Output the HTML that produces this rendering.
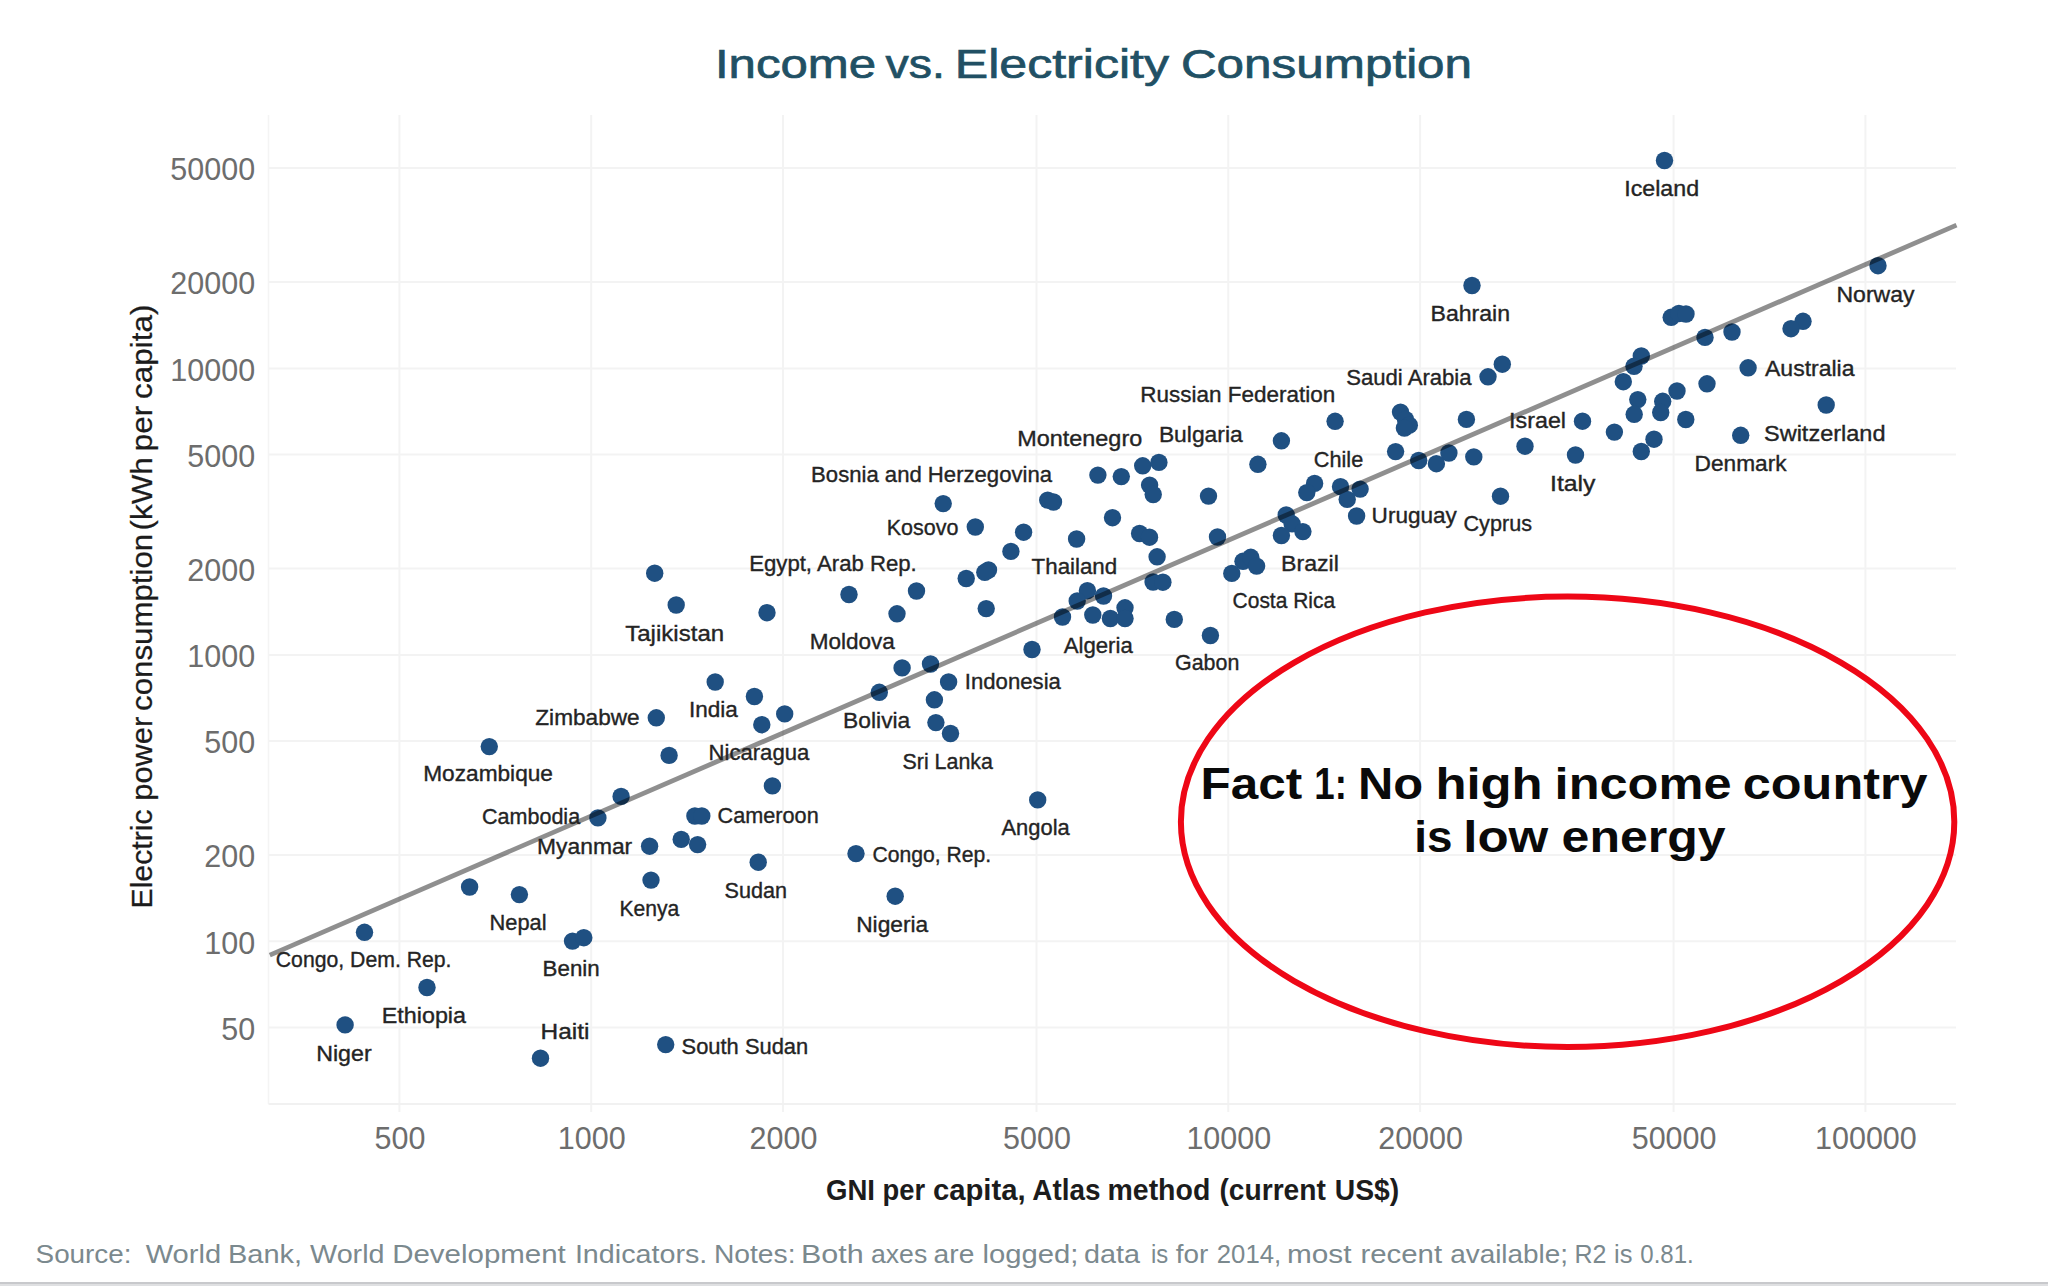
<!DOCTYPE html><html><head><meta charset="utf-8"><title>Income vs. Electricity Consumption</title>
<style>html,body{margin:0;padding:0;background:#fff;}body{width:2048px;height:1286px;overflow:hidden;position:relative;font-family:"Liberation Sans",sans-serif;}svg{position:absolute;left:0;top:0;display:block}</style></head><body>
<svg width="2048" height="1286" viewBox="0 0 2048 1286" font-family="Liberation Sans, sans-serif">
<rect x="0" y="0" width="2048" height="1286" fill="#ffffff"/>
<g stroke="#f3f3f3" stroke-width="2"><line x1="399.4" y1="115" x2="399.4" y2="1112"/><line x1="591.2" y1="115" x2="591.2" y2="1112"/><line x1="783.0" y1="115" x2="783.0" y2="1112"/><line x1="1036.5" y1="115" x2="1036.5" y2="1112"/><line x1="1228.3" y1="115" x2="1228.3" y2="1112"/><line x1="1420.1" y1="115" x2="1420.1" y2="1112"/><line x1="1673.6" y1="115" x2="1673.6" y2="1112"/><line x1="1865.4" y1="115" x2="1865.4" y2="1112"/><line x1="268.5" y1="1027.6" x2="1956" y2="1027.6"/><line x1="268.5" y1="941.3" x2="1956" y2="941.3"/><line x1="268.5" y1="855.1" x2="1956" y2="855.1"/><line x1="268.5" y1="741.1" x2="1956" y2="741.1"/><line x1="268.5" y1="654.9" x2="1956" y2="654.9"/><line x1="268.5" y1="568.6" x2="1956" y2="568.6"/><line x1="268.5" y1="454.6" x2="1956" y2="454.6"/><line x1="268.5" y1="368.4" x2="1956" y2="368.4"/><line x1="268.5" y1="282.1" x2="1956" y2="282.1"/><line x1="268.5" y1="168.1" x2="1956" y2="168.1"/></g>
<line x1="268.5" y1="115" x2="268.5" y2="1104" stroke="#f4f4f4" stroke-width="1.5"/>
<line x1="268.5" y1="1104" x2="1956" y2="1104" stroke="#f1f1f1" stroke-width="2"/>
<g font-size="30.5" fill="#6d6d6d"><text x="255.2" y="1039.8" text-anchor="end">50</text><text x="255.2" y="953.5" text-anchor="end">100</text><text x="255.2" y="867.3" text-anchor="end">200</text><text x="255.2" y="753.3" text-anchor="end">500</text><text x="255.2" y="667.1" text-anchor="end">1000</text><text x="255.2" y="580.8" text-anchor="end">2000</text><text x="255.2" y="466.8" text-anchor="end">5000</text><text x="255.2" y="380.6" text-anchor="end">10000</text><text x="255.2" y="294.3" text-anchor="end">20000</text><text x="255.2" y="180.3" text-anchor="end">50000</text><text x="399.9" y="1148.5" text-anchor="middle">500</text><text x="591.7" y="1148.5" text-anchor="middle">1000</text><text x="783.5" y="1148.5" text-anchor="middle">2000</text><text x="1037.0" y="1148.5" text-anchor="middle">5000</text><text x="1228.8" y="1148.5" text-anchor="middle">10000</text><text x="1420.6" y="1148.5" text-anchor="middle">20000</text><text x="1674.1" y="1148.5" text-anchor="middle">50000</text><text x="1865.9" y="1148.5" text-anchor="middle">100000</text></g>
<g fill="#1f5082"><circle cx="1664.5" cy="160.5" r="8.7"/><circle cx="1878" cy="265.7" r="8.7"/><circle cx="1472" cy="285.5" r="8.7"/><circle cx="1671.2" cy="317.3" r="8.7"/><circle cx="1678.9" cy="313.5" r="8.7"/><circle cx="1686" cy="314" r="8.7"/><circle cx="1732" cy="332" r="8.7"/><circle cx="1705" cy="337.4" r="8.7"/><circle cx="1641.3" cy="356" r="8.7"/><circle cx="1634" cy="366.3" r="8.7"/><circle cx="1623.3" cy="381.7" r="8.7"/><circle cx="1748.1" cy="367.8" r="8.7"/><circle cx="1707" cy="383.8" r="8.7"/><circle cx="1677" cy="391" r="8.7"/><circle cx="1637.8" cy="399.6" r="8.7"/><circle cx="1662.7" cy="401.3" r="8.7"/><circle cx="1660.7" cy="412.5" r="8.7"/><circle cx="1634.2" cy="414.3" r="8.7"/><circle cx="1685.8" cy="419.5" r="8.7"/><circle cx="1614.4" cy="432.1" r="8.7"/><circle cx="1654" cy="439.2" r="8.7"/><circle cx="1641.3" cy="451.5" r="8.7"/><circle cx="1740.7" cy="435.3" r="8.7"/><circle cx="1826.2" cy="405" r="8.7"/><circle cx="1803" cy="321.3" r="8.7"/><circle cx="1791" cy="328.7" r="8.7"/><circle cx="1502.3" cy="364.2" r="8.7"/><circle cx="1488" cy="376.8" r="8.7"/><circle cx="1582.5" cy="421.2" r="8.7"/><circle cx="1466.4" cy="419.4" r="8.7"/><circle cx="1525" cy="446.2" r="8.7"/><circle cx="1575.5" cy="455" r="8.7"/><circle cx="1473.8" cy="456.9" r="8.7"/><circle cx="1448.9" cy="453" r="8.7"/><circle cx="1436.4" cy="463.7" r="8.7"/><circle cx="1418.7" cy="460.5" r="8.7"/><circle cx="1395.6" cy="451.6" r="8.7"/><circle cx="1500.5" cy="496.2" r="8.7"/><circle cx="1400.5" cy="412.1" r="8.7"/><circle cx="1405.5" cy="419.5" r="8.7"/><circle cx="1409.3" cy="425.2" r="8.7"/><circle cx="1404.4" cy="428.1" r="8.7"/><circle cx="1335.1" cy="421.3" r="8.7"/><circle cx="1281.4" cy="440.8" r="8.7"/><circle cx="1257.9" cy="464.3" r="8.7"/><circle cx="1142.7" cy="465.8" r="8.7"/><circle cx="1158.9" cy="462.4" r="8.7"/><circle cx="1149.6" cy="485.1" r="8.7"/><circle cx="1153.2" cy="494.5" r="8.7"/><circle cx="1208.5" cy="496.1" r="8.7"/><circle cx="1314.6" cy="483.4" r="8.7"/><circle cx="1306.8" cy="492.6" r="8.7"/><circle cx="1340.5" cy="486.7" r="8.7"/><circle cx="1360.1" cy="489.1" r="8.7"/><circle cx="1347.2" cy="499.4" r="8.7"/><circle cx="1356.6" cy="516" r="8.7"/><circle cx="1286.2" cy="515" r="8.7"/><circle cx="1292.1" cy="523.8" r="8.7"/><circle cx="1302.9" cy="531.6" r="8.7"/><circle cx="1281.4" cy="535.5" r="8.7"/><circle cx="1217.5" cy="537" r="8.7"/><circle cx="1139.6" cy="533.5" r="8.7"/><circle cx="1149.5" cy="537.2" r="8.7"/><circle cx="1157.1" cy="556.8" r="8.7"/><circle cx="1097.9" cy="475.1" r="8.7"/><circle cx="1121.3" cy="476.6" r="8.7"/><circle cx="1047.7" cy="500.1" r="8.7"/><circle cx="1053.5" cy="502" r="8.7"/><circle cx="943.2" cy="503.6" r="8.7"/><circle cx="975.3" cy="527" r="8.7"/><circle cx="1023.6" cy="532.2" r="8.7"/><circle cx="1112.5" cy="517.7" r="8.7"/><circle cx="1076.6" cy="539" r="8.7"/><circle cx="1010.9" cy="551.4" r="8.7"/><circle cx="988.5" cy="570" r="8.7"/><circle cx="984.8" cy="572.3" r="8.7"/><circle cx="966.2" cy="578.5" r="8.7"/><circle cx="1153.1" cy="582" r="8.7"/><circle cx="1162.9" cy="582.2" r="8.7"/><circle cx="849" cy="594.5" r="8.7"/><circle cx="916.5" cy="591" r="8.7"/><circle cx="897" cy="613.8" r="8.7"/><circle cx="986.2" cy="608.6" r="8.7"/><circle cx="1087.4" cy="590.7" r="8.7"/><circle cx="1103.5" cy="596" r="8.7"/><circle cx="1077.2" cy="601" r="8.7"/><circle cx="1062.5" cy="617" r="8.7"/><circle cx="1092.8" cy="615" r="8.7"/><circle cx="1125" cy="607.8" r="8.7"/><circle cx="1110.4" cy="618.5" r="8.7"/><circle cx="1125" cy="618.5" r="8.7"/><circle cx="1174.3" cy="619.4" r="8.7"/><circle cx="1243" cy="561.3" r="8.7"/><circle cx="1250.8" cy="557.3" r="8.7"/><circle cx="1256.6" cy="566.1" r="8.7"/><circle cx="1231.8" cy="573.4" r="8.7"/><circle cx="1210.4" cy="635.5" r="8.7"/><circle cx="1032" cy="649.5" r="8.7"/><circle cx="654.7" cy="573.2" r="8.7"/><circle cx="676.2" cy="605" r="8.7"/><circle cx="767" cy="612.7" r="8.7"/><circle cx="902.1" cy="667.9" r="8.7"/><circle cx="930.5" cy="664" r="8.7"/><circle cx="948.6" cy="682" r="8.7"/><circle cx="879.3" cy="692.3" r="8.7"/><circle cx="934.4" cy="699.8" r="8.7"/><circle cx="935.9" cy="722.6" r="8.7"/><circle cx="950.5" cy="733.5" r="8.7"/><circle cx="715.2" cy="682" r="8.7"/><circle cx="754.4" cy="696.5" r="8.7"/><circle cx="784.7" cy="713.9" r="8.7"/><circle cx="761.8" cy="724.7" r="8.7"/><circle cx="656.3" cy="717.8" r="8.7"/><circle cx="489.3" cy="746.6" r="8.7"/><circle cx="669.1" cy="755.4" r="8.7"/><circle cx="772.4" cy="785.9" r="8.7"/><circle cx="621.1" cy="796.4" r="8.7"/><circle cx="597.9" cy="817.9" r="8.7"/><circle cx="694.9" cy="816" r="8.7"/><circle cx="701.8" cy="816" r="8.7"/><circle cx="681.2" cy="839.4" r="8.7"/><circle cx="697.6" cy="844.6" r="8.7"/><circle cx="649.6" cy="846.2" r="8.7"/><circle cx="758.2" cy="862.2" r="8.7"/><circle cx="856" cy="853.6" r="8.7"/><circle cx="1037.7" cy="799.9" r="8.7"/><circle cx="895.2" cy="896.2" r="8.7"/><circle cx="651" cy="880.1" r="8.7"/><circle cx="469.6" cy="887" r="8.7"/><circle cx="519.4" cy="894.6" r="8.7"/><circle cx="364.5" cy="932.3" r="8.7"/><circle cx="572.5" cy="941.1" r="8.7"/><circle cx="583.8" cy="937.7" r="8.7"/><circle cx="427" cy="987.5" r="8.7"/><circle cx="345.1" cy="1024.9" r="8.7"/><circle cx="540.5" cy="1058.2" r="8.7"/><circle cx="665.7" cy="1044.6" r="8.7"/></g>
<line x1="269.8" y1="955.1" x2="1956.5" y2="225.1" stroke="#000" stroke-opacity="0.44" stroke-width="4.8"/>
<text x="1624.2" y="196.4" font-size="21.5" stroke="#242424" stroke-width="0.35" fill="#242424" textLength="74.9" lengthAdjust="spacingAndGlyphs">Iceland</text>
<text x="1836.5" y="301.6" font-size="21.5" stroke="#242424" stroke-width="0.35" fill="#242424" textLength="78.0" lengthAdjust="spacingAndGlyphs">Norway</text>
<text x="1430.5" y="321.2" font-size="21.5" stroke="#242424" stroke-width="0.35" fill="#242424" textLength="79.6" lengthAdjust="spacingAndGlyphs">Bahrain</text>
<text x="1346.2" y="385.2" font-size="21.5" stroke="#242424" stroke-width="0.35" fill="#242424" textLength="125.4" lengthAdjust="spacingAndGlyphs">Saudi Arabia</text>
<text x="1140.3" y="401.8" font-size="21.5" stroke="#242424" stroke-width="0.35" fill="#242424" textLength="195.0" lengthAdjust="spacingAndGlyphs">Russian Federation</text>
<text x="1765.0" y="376.3" font-size="21.5" stroke="#242424" stroke-width="0.35" fill="#242424" textLength="89.5" lengthAdjust="spacingAndGlyphs">Australia</text>
<text x="1509.1" y="428" font-size="21.5" stroke="#242424" stroke-width="0.35" fill="#242424" textLength="56.9" lengthAdjust="spacingAndGlyphs">Israel</text>
<text x="1764.0" y="440.8" font-size="21.5" stroke="#242424" stroke-width="0.35" fill="#242424" textLength="121.5" lengthAdjust="spacingAndGlyphs">Switzerland</text>
<text x="1694.6" y="470.8" font-size="21.5" stroke="#242424" stroke-width="0.35" fill="#242424" textLength="92.0" lengthAdjust="spacingAndGlyphs">Denmark</text>
<text x="1550.0" y="490.5" font-size="21.5" stroke="#242424" stroke-width="0.35" fill="#242424" textLength="45.5" lengthAdjust="spacingAndGlyphs">Italy</text>
<text x="1463.5" y="531.2" font-size="21.5" stroke="#242424" stroke-width="0.35" fill="#242424" textLength="68.5" lengthAdjust="spacingAndGlyphs">Cyprus</text>
<text x="1371.6" y="522.9" font-size="21.5" stroke="#242424" stroke-width="0.35" fill="#242424" textLength="85.3" lengthAdjust="spacingAndGlyphs">Uruguay</text>
<text x="1313.8" y="467.2" font-size="21.5" stroke="#242424" stroke-width="0.35" fill="#242424" textLength="49.4" lengthAdjust="spacingAndGlyphs">Chile</text>
<text x="1158.9" y="442.2" font-size="21.5" stroke="#242424" stroke-width="0.35" fill="#242424" textLength="83.8" lengthAdjust="spacingAndGlyphs">Bulgaria</text>
<text x="1017.3" y="446" font-size="21.5" stroke="#242424" stroke-width="0.35" fill="#242424" textLength="124.9" lengthAdjust="spacingAndGlyphs">Montenegro</text>
<text x="811.1" y="482.1" font-size="21.5" stroke="#242424" stroke-width="0.35" fill="#242424" textLength="240.9" lengthAdjust="spacingAndGlyphs">Bosnia and Herzegovina</text>
<text x="886.7" y="535.2" font-size="21.5" stroke="#242424" stroke-width="0.35" fill="#242424" textLength="71.7" lengthAdjust="spacingAndGlyphs">Kosovo</text>
<text x="1031.6" y="574.4" font-size="21.5" stroke="#242424" stroke-width="0.35" fill="#242424" textLength="85.6" lengthAdjust="spacingAndGlyphs">Thailand</text>
<text x="1281.0" y="571" font-size="21.5" stroke="#242424" stroke-width="0.35" fill="#242424" textLength="57.9" lengthAdjust="spacingAndGlyphs">Brazil</text>
<text x="1232.6" y="608.1" font-size="21.5" stroke="#242424" stroke-width="0.35" fill="#242424" textLength="102.5" lengthAdjust="spacingAndGlyphs">Costa Rica</text>
<text x="749.2" y="571.2" font-size="21.5" stroke="#242424" stroke-width="0.35" fill="#242424" textLength="167.6" lengthAdjust="spacingAndGlyphs">Egypt, Arab Rep.</text>
<text x="625.2" y="640.6" font-size="21.5" stroke="#242424" stroke-width="0.35" fill="#242424" textLength="99.0" lengthAdjust="spacingAndGlyphs">Tajikistan</text>
<text x="809.7" y="649.4" font-size="21.5" stroke="#242424" stroke-width="0.35" fill="#242424" textLength="85.2" lengthAdjust="spacingAndGlyphs">Moldova</text>
<text x="1063.7" y="652.7" font-size="21.5" stroke="#242424" stroke-width="0.35" fill="#242424" textLength="69.1" lengthAdjust="spacingAndGlyphs">Algeria</text>
<text x="1175.0" y="670.2" font-size="21.5" stroke="#242424" stroke-width="0.35" fill="#242424" textLength="64.3" lengthAdjust="spacingAndGlyphs">Gabon</text>
<text x="964.8" y="688.5" font-size="21.5" stroke="#242424" stroke-width="0.35" fill="#242424" textLength="96.1" lengthAdjust="spacingAndGlyphs">Indonesia</text>
<text x="688.9" y="717.3" font-size="21.5" stroke="#242424" stroke-width="0.35" fill="#242424" textLength="48.9" lengthAdjust="spacingAndGlyphs">India</text>
<text x="535.3" y="725" font-size="21.5" stroke="#242424" stroke-width="0.35" fill="#242424" textLength="104.4" lengthAdjust="spacingAndGlyphs">Zimbabwe</text>
<text x="843.1" y="727.9" font-size="21.5" stroke="#242424" stroke-width="0.35" fill="#242424" textLength="67.2" lengthAdjust="spacingAndGlyphs">Bolivia</text>
<text x="902.5" y="769.1" font-size="21.5" stroke="#242424" stroke-width="0.35" fill="#242424" textLength="90.4" lengthAdjust="spacingAndGlyphs">Sri Lanka</text>
<text x="708.5" y="760.1" font-size="21.5" stroke="#242424" stroke-width="0.35" fill="#242424" textLength="100.8" lengthAdjust="spacingAndGlyphs">Nicaragua</text>
<text x="423.2" y="781.4" font-size="21.5" stroke="#242424" stroke-width="0.35" fill="#242424" textLength="129.8" lengthAdjust="spacingAndGlyphs">Mozambique</text>
<text x="717.6" y="822.5" font-size="21.5" stroke="#242424" stroke-width="0.35" fill="#242424" textLength="101.1" lengthAdjust="spacingAndGlyphs">Cameroon</text>
<text x="482.0" y="824.4" font-size="21.5" stroke="#242424" stroke-width="0.35" fill="#242424" textLength="98.1" lengthAdjust="spacingAndGlyphs">Cambodia</text>
<text x="1001.5" y="835.1" font-size="21.5" stroke="#242424" stroke-width="0.35" fill="#242424" textLength="68.2" lengthAdjust="spacingAndGlyphs">Angola</text>
<text x="537.1" y="853.7" font-size="21.5" stroke="#242424" stroke-width="0.35" fill="#242424" textLength="95.1" lengthAdjust="spacingAndGlyphs">Myanmar</text>
<text x="872.6" y="862.4" font-size="21.5" stroke="#242424" stroke-width="0.35" fill="#242424" textLength="118.6" lengthAdjust="spacingAndGlyphs">Congo, Rep.</text>
<text x="724.6" y="897.6" font-size="21.5" stroke="#242424" stroke-width="0.35" fill="#242424" textLength="62.5" lengthAdjust="spacingAndGlyphs">Sudan</text>
<text x="619.5" y="916.2" font-size="21.5" stroke="#242424" stroke-width="0.35" fill="#242424" textLength="59.8" lengthAdjust="spacingAndGlyphs">Kenya</text>
<text x="489.5" y="929.7" font-size="21.5" stroke="#242424" stroke-width="0.35" fill="#242424" textLength="57.0" lengthAdjust="spacingAndGlyphs">Nepal</text>
<text x="856.2" y="931.9" font-size="21.5" stroke="#242424" stroke-width="0.35" fill="#242424" textLength="72.1" lengthAdjust="spacingAndGlyphs">Nigeria</text>
<text x="275.8" y="967.4" font-size="21.5" stroke="#242424" stroke-width="0.35" fill="#242424" textLength="175.7" lengthAdjust="spacingAndGlyphs">Congo, Dem. Rep.</text>
<text x="542.6" y="976.2" font-size="21.5" stroke="#242424" stroke-width="0.35" fill="#242424" textLength="57.1" lengthAdjust="spacingAndGlyphs">Benin</text>
<text x="381.8" y="1022.5" font-size="21.5" stroke="#242424" stroke-width="0.35" fill="#242424" textLength="84.2" lengthAdjust="spacingAndGlyphs">Ethiopia</text>
<text x="540.6" y="1038.5" font-size="21.5" stroke="#242424" stroke-width="0.35" fill="#242424" textLength="48.9" lengthAdjust="spacingAndGlyphs">Haiti</text>
<text x="316.2" y="1060.6" font-size="21.5" stroke="#242424" stroke-width="0.35" fill="#242424" textLength="55.5" lengthAdjust="spacingAndGlyphs">Niger</text>
<text x="681.6" y="1053.5" font-size="21.5" stroke="#242424" stroke-width="0.35" fill="#242424" textLength="126.6" lengthAdjust="spacingAndGlyphs">South Sudan</text>
<text x="714.9" y="78.4" font-size="40.8" stroke="#215064" stroke-width="0.7" fill="#215064" textLength="161.3" lengthAdjust="spacingAndGlyphs">Income</text>
<text x="885.6" y="78.4" font-size="40.8" stroke="#215064" stroke-width="0.7" fill="#215064" textLength="59.4" lengthAdjust="spacingAndGlyphs">vs.</text>
<text x="954.8" y="78.4" font-size="40.8" stroke="#215064" stroke-width="0.7" fill="#215064" textLength="214.2" lengthAdjust="spacingAndGlyphs">Electricity</text>
<text x="1180.9" y="78.4" font-size="40.8" stroke="#215064" stroke-width="0.7" fill="#215064" textLength="291.2" lengthAdjust="spacingAndGlyphs">Consumption</text>
<text x="826.0" y="1199.9" font-size="29.5" font-weight="bold" fill="#1c1c1c" textLength="49.0" lengthAdjust="spacingAndGlyphs">GNI</text>
<text x="882.5" y="1199.9" font-size="29.5" font-weight="bold" fill="#1c1c1c" textLength="42.6" lengthAdjust="spacingAndGlyphs">per</text>
<text x="932.9" y="1199.9" font-size="29.5" font-weight="bold" fill="#1c1c1c" textLength="92.8" lengthAdjust="spacingAndGlyphs">capita,</text>
<text x="1032.3" y="1199.9" font-size="29.5" font-weight="bold" fill="#1c1c1c" textLength="68.1" lengthAdjust="spacingAndGlyphs">Atlas</text>
<text x="1107.5" y="1199.9" font-size="29.5" font-weight="bold" fill="#1c1c1c" textLength="102.8" lengthAdjust="spacingAndGlyphs">method</text>
<text x="1219.4" y="1199.9" font-size="29.5" font-weight="bold" fill="#1c1c1c" textLength="106.5" lengthAdjust="spacingAndGlyphs">(current</text>
<text x="1334.8" y="1199.9" font-size="29.5" font-weight="bold" fill="#1c1c1c" textLength="64.5" lengthAdjust="spacingAndGlyphs">US$)</text>
<text x="1200.6" y="799.3" font-size="43.5" font-weight="bold" fill="#0a0a0a" textLength="101.6" lengthAdjust="spacingAndGlyphs">Fact</text>
<text x="1314.3" y="799.3" font-size="43.5" font-weight="bold" fill="#0a0a0a" textLength="32.6" lengthAdjust="spacingAndGlyphs">1:</text>
<text x="1358.0" y="799.3" font-size="43.5" font-weight="bold" fill="#0a0a0a" textLength="65.2" lengthAdjust="spacingAndGlyphs">No</text>
<text x="1435.4" y="799.3" font-size="43.5" font-weight="bold" fill="#0a0a0a" textLength="107.3" lengthAdjust="spacingAndGlyphs">high</text>
<text x="1554.6" y="799.3" font-size="43.5" font-weight="bold" fill="#0a0a0a" textLength="176.9" lengthAdjust="spacingAndGlyphs">income</text>
<text x="1742.8" y="799.3" font-size="43.5" font-weight="bold" fill="#0a0a0a" textLength="184.8" lengthAdjust="spacingAndGlyphs">country</text>
<text x="1414.3" y="852" font-size="43.5" font-weight="bold" fill="#0a0a0a" textLength="38.2" lengthAdjust="spacingAndGlyphs">is</text>
<text x="1463.3" y="852" font-size="43.5" font-weight="bold" fill="#0a0a0a" textLength="85.0" lengthAdjust="spacingAndGlyphs">low</text>
<text x="1561.6" y="852" font-size="43.5" font-weight="bold" fill="#0a0a0a" textLength="164.1" lengthAdjust="spacingAndGlyphs">energy</text>
<text x="35.6" y="1262.8" font-size="25" fill="#7b898e" textLength="95.9" lengthAdjust="spacingAndGlyphs">Source:</text>
<text x="145.7" y="1262.8" font-size="25" fill="#7b898e" textLength="75.4" lengthAdjust="spacingAndGlyphs">World</text>
<text x="228.0" y="1262.8" font-size="25" fill="#7b898e" textLength="74.1" lengthAdjust="spacingAndGlyphs">Bank,</text>
<text x="310.0" y="1262.8" font-size="25" fill="#7b898e" textLength="74.6" lengthAdjust="spacingAndGlyphs">World</text>
<text x="392.2" y="1262.8" font-size="25" fill="#7b898e" textLength="173.6" lengthAdjust="spacingAndGlyphs">Development</text>
<text x="574.9" y="1262.8" font-size="25" fill="#7b898e" textLength="132.4" lengthAdjust="spacingAndGlyphs">Indicators.</text>
<text x="713.9" y="1262.8" font-size="25" fill="#7b898e" textLength="81.7" lengthAdjust="spacingAndGlyphs">Notes:</text>
<text x="800.9" y="1262.8" font-size="25" fill="#7b898e" textLength="62.7" lengthAdjust="spacingAndGlyphs">Both</text>
<text x="871.0" y="1262.8" font-size="25" fill="#7b898e" textLength="56.2" lengthAdjust="spacingAndGlyphs">axes</text>
<text x="933.6" y="1262.8" font-size="25" fill="#7b898e" textLength="40.7" lengthAdjust="spacingAndGlyphs">are</text>
<text x="982.4" y="1262.8" font-size="25" fill="#7b898e" textLength="95.9" lengthAdjust="spacingAndGlyphs">logged;</text>
<text x="1083.9" y="1262.8" font-size="25" fill="#7b898e" textLength="56.0" lengthAdjust="spacingAndGlyphs">data</text>
<text x="1151.0" y="1262.8" font-size="25" fill="#7b898e" textLength="17.2" lengthAdjust="spacingAndGlyphs">is</text>
<text x="1175.8" y="1262.8" font-size="25" fill="#7b898e" textLength="32.5" lengthAdjust="spacingAndGlyphs">for</text>
<text x="1216.8" y="1262.8" font-size="25" fill="#7b898e" textLength="64.3" lengthAdjust="spacingAndGlyphs">2014,</text>
<text x="1287.0" y="1262.8" font-size="25" fill="#7b898e" textLength="64.5" lengthAdjust="spacingAndGlyphs">most</text>
<text x="1360.4" y="1262.8" font-size="25" fill="#7b898e" textLength="81.7" lengthAdjust="spacingAndGlyphs">recent</text>
<text x="1450.2" y="1262.8" font-size="25" fill="#7b898e" textLength="117.9" lengthAdjust="spacingAndGlyphs">available;</text>
<text x="1574.5" y="1262.8" font-size="25" fill="#7b898e" textLength="32.0" lengthAdjust="spacingAndGlyphs">R2</text>
<text x="1614.0" y="1262.8" font-size="25" fill="#7b898e" textLength="18.4" lengthAdjust="spacingAndGlyphs">is</text>
<text x="1640.3" y="1262.8" font-size="25" fill="#7b898e" textLength="53.4" lengthAdjust="spacingAndGlyphs">0.81.</text>
<text transform="translate(151.5,908.50) rotate(-90)" x="0" y="0" font-size="29.5" stroke="#1c1c1c" stroke-width="0.25" fill="#1c1c1c" textLength="99.0" lengthAdjust="spacingAndGlyphs">Electric</text>
<text transform="translate(151.5,800.70) rotate(-90)" x="0" y="0" font-size="29.5" stroke="#1c1c1c" stroke-width="0.25" fill="#1c1c1c" textLength="84.0" lengthAdjust="spacingAndGlyphs">power</text>
<text transform="translate(151.5,711.00) rotate(-90)" x="0" y="0" font-size="29.5" stroke="#1c1c1c" stroke-width="0.25" fill="#1c1c1c" textLength="177.2" lengthAdjust="spacingAndGlyphs">consumption</text>
<text transform="translate(151.5,530.50) rotate(-90)" x="0" y="0" font-size="29.5" stroke="#1c1c1c" stroke-width="0.25" fill="#1c1c1c" textLength="73.2" lengthAdjust="spacingAndGlyphs">(kWh</text>
<text transform="translate(151.5,451.20) rotate(-90)" x="0" y="0" font-size="29.5" stroke="#1c1c1c" stroke-width="0.25" fill="#1c1c1c" textLength="45.3" lengthAdjust="spacingAndGlyphs">per</text>
<text transform="translate(151.5,398.90) rotate(-90)" x="0" y="0" font-size="29.5" stroke="#1c1c1c" stroke-width="0.25" fill="#1c1c1c" textLength="94.5" lengthAdjust="spacingAndGlyphs">capita)</text>
<ellipse cx="1567.6" cy="821.8" rx="386.7" ry="225.2" fill="none" stroke="#ee0716" stroke-width="6"/>
<rect x="0" y="1282" width="2048" height="2" fill="#c8c9cc"/><rect x="0" y="1284" width="2048" height="2" fill="#dfe0e2"/>
</svg></body></html>
